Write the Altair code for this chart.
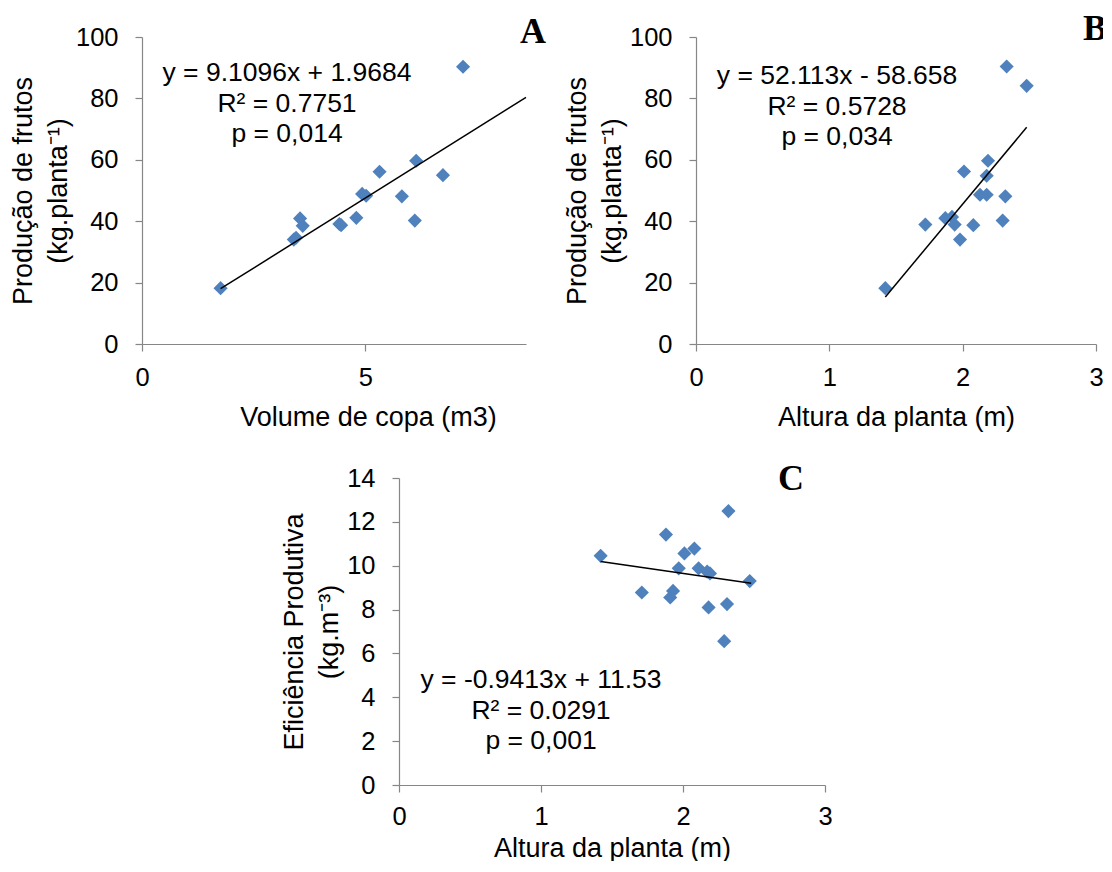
import altair as alt
import pandas as pd

FONT = "Liberation Sans"
BLUE = "#4F81BD"
GRAY = "#868686"

# ---- Panel A: Volume de copa vs Produção de frutos
vol_a = [1.76, 3.40, 3.45, 3.54, 3.60, 4.42, 4.46, 4.80, 4.93, 5.02, 5.32, 5.82, 6.11, 6.14, 6.74, 7.19]
prod_a = [18.2, 34.0, 34.6, 40.9, 38.5, 39.1, 38.7, 41.1, 48.9, 48.3, 56.1, 48.1, 40.2, 59.7, 55.0, 90.3]
coef_a = (9.1096, 1.9684)
trend_x_a = [1.76, 8.6]
eq_a = ["y = 9.1096x + 1.9684", "R² = 0.7751", "p = 0,014"]

# ---- Panel B: Altura da planta vs Produção de frutos
alt_b = [1.42, 1.72, 1.87, 1.92, 1.94, 1.98, 2.01, 2.08, 2.13, 2.18, 2.18, 2.19, 2.30, 2.32, 2.33, 2.48]
prod_b = [18.2, 38.9, 41.0, 41.4, 38.9, 34.0, 56.2, 38.7, 48.6, 48.6, 54.8, 59.7, 40.2, 48.1, 90.4, 84.1]
coef_b = (52.113, -58.658)
trend_x_b = [1.42, 2.48]
eq_b = ["y = 52.113x - 58.658", "R² = 0.5728", "p = 0,034"]

# ---- Panel C: Altura da planta vs Eficiência Produtiva
alt_c = [1.42, 1.71, 1.88, 1.91, 1.93, 1.97, 2.01, 2.08, 2.11, 2.17, 2.19, 2.18, 2.29, 2.31, 2.32, 2.47]
ef_c = [10.45, 8.78, 11.42, 8.55, 8.85, 9.88, 10.56, 10.78, 9.88, 9.73, 9.65, 8.10, 6.56, 8.25, 12.49, 9.30]
coef_c = (-0.9413, 11.53)
trend_x_c = [1.42, 2.48]
eq_c = ["y = -0.9413x + 11.53", "R² = 0.0291", "p = 0,001"]

x_ticks_a = [0, 5]
x_ticks_bc = [0, 1, 2, 3]
y_ticks_ab = [0, 20, 40, 60, 80, 100]
y_ticks_c = [0, 2, 4, 6, 8, 10, 12, 14]

def axis(title, values, orient, **kw):
    base = dict(
        values=values, title=title, grid=False, format="d",
        domainColor=GRAY, tickColor=GRAY, tickSize=7, domainWidth=1.2, tickWidth=1.2,
        labelFont=FONT, labelFontSize=25.5, labelColor="black",
        titleFont=FONT, titleFontSize=27, titleFontWeight="normal", titleColor="black",
        labelFlush=False, labelOverlap=False,
    )
    if orient == "x":
        base.update(labelPadding=14, titlePadding=14)
    else:
        base.update(labelPadding=17, titlePadding=3, titleLineHeight=35)
    base.update(kw)
    return alt.Axis(**base)

def panel(xs, ys, coef, trend_x, eq, letter, xdom, xticks, ydom, yticks,
          xtitle, ytitle, w, h, eq_pos, letter_pos, xaxis_kw=None):
    df = pd.DataFrame({"x": xs, "y": ys})
    xsc = alt.Scale(domain=xdom, nice=False, zero=False)
    ysc = alt.Scale(domain=ydom, nice=False, zero=False)
    X = alt.X("x:Q", scale=xsc, axis=axis(xtitle, xticks, "x", **(xaxis_kw or {})))
    Y = alt.Y("y:Q", scale=ysc, axis=axis(ytitle, yticks, "y"))
    pts = alt.Chart(df).mark_point(shape="diamond", filled=True, size=200,
                                   color=BLUE, opacity=1).encode(x=X, y=Y)
    tdf = pd.DataFrame({"x": trend_x, "y": [coef[0] * v + coef[1] for v in trend_x]})
    line = alt.Chart(tdf).mark_line(color="black", strokeWidth=1.5).encode(
        x=alt.X("x:Q", scale=xsc), y=alt.Y("y:Q", scale=ysc))
    edf = pd.DataFrame({"t": ["\n".join(eq)]})
    eqt = alt.Chart(edf).mark_text(font=FONT, fontSize=26.5, lineBreak="\n", lineHeight=30.5,
                                   align="center", baseline="middle", color="black").encode(
        text="t:N", x=alt.value(eq_pos[0]), y=alt.value(eq_pos[1]))
    ldf = pd.DataFrame({"t": [letter]})
    let = alt.Chart(ldf).mark_text(font="Liberation Serif", fontSize=36, fontWeight="bold",
                                   align="center", baseline="middle", color="black").encode(
        text="t:N", x=alt.value(letter_pos[0]), y=alt.value(letter_pos[1]))
    return alt.layer(pts, line, eqt, let).properties(width=w, height=h)

A = panel(vol_a, prod_a, coef_a, trend_x_a, eq_a, "A", [0, 8.6], x_ticks_a, [0, 100], y_ticks_ab,
          "Volume de copa (m3)", ["Produção de frutos", "(kg.planta⁻¹)"], 384, 307,
          (145, 36), (391, -5), xaxis_kw=dict(titleX=226))
B = panel(alt_b, prod_b, coef_b, trend_x_b, eq_b, "B", [0, 3], x_ticks_bc, [0, 100], y_ticks_ab,
          "Altura da planta (m)", ["Produção de frutos", "(kg.planta⁻¹)"], 400, 307,
          (141, 39), (399, -8))
C = panel(alt_c, ef_c, coef_c, trend_x_c, eq_c, "C", [0, 3], x_ticks_bc, [0, 14], y_ticks_c,
          "Altura da planta (m)", ["Eficiência Produtiva", "(kg.m⁻³)"], 426, 307,
          (142, 202), (392, 1), xaxis_kw=dict(labelPadding=12, titlePadding=5.5))

spacer = alt.Chart(pd.DataFrame({"v": [0]})).mark_point(opacity=0).encode(
    x=alt.value(0), y=alt.value(0)).properties(width=257, height=307)

top = alt.hconcat(A, B, spacing=170, bounds="flush")
bottom = alt.hconcat(spacer, C, spacing=0, bounds="flush")
chart = alt.vconcat(top, bottom, spacing=30).properties(
    padding={"left": 1, "top": 3, "right": -5, "bottom": 0},
    background="white",
).configure_view(stroke=None)

chart.save("out.html", embed_options={"renderer": "svg", "actions": False})
